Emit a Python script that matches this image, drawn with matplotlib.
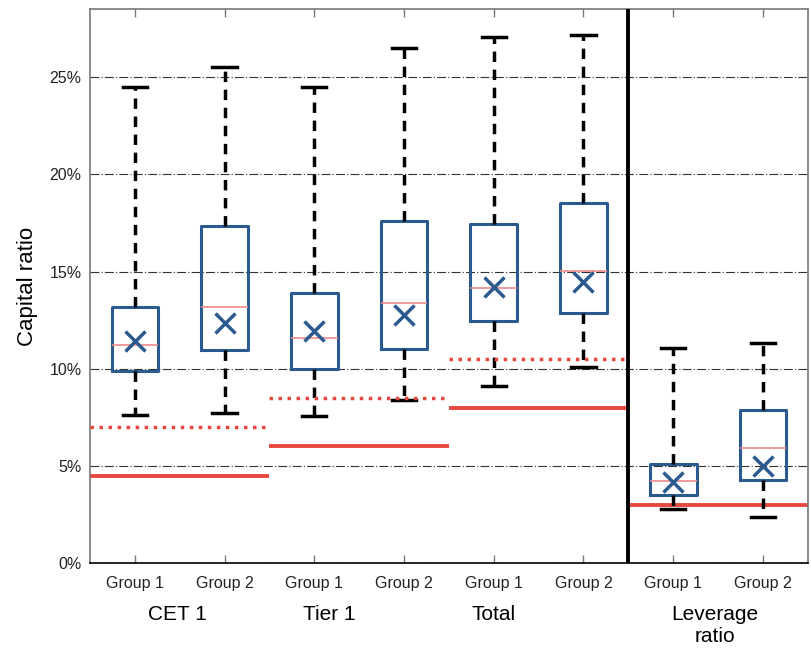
import matplotlib.pyplot as plt
from matplotlib.ticker import FuncFormatter

plt.rcParams['font.family'] = ['Liberation Sans', 'DejaVu Sans']

# box statistics (capital ratio, %)
groups = ['Group 1', 'Group 2'] * 4
whislo = [7.6, 7.7, 7.55, 8.4, 9.1, 10.1, 2.8, 2.35]
q1 = [9.9, 10.95, 10.0, 11.0, 12.45, 12.85, 3.5, 4.3]
med = [11.2, 13.2, 11.6, 13.4, 14.15, 15.05, 4.2, 5.9]
mean = [11.4, 12.35, 11.95, 12.75, 14.2, 14.45, 4.15, 5.0]
q3 = [13.2, 17.35, 13.9, 17.6, 17.45, 18.5, 5.1, 7.9]
whishi = [24.5, 25.5, 24.5, 26.5, 27.05, 27.15, 11.05, 11.3]

# requirements per measure
measures = ['CET 1', 'Tier 1', 'Total', 'Leverage\nratio']
min_req = [4.5, 6.0, 8.0, 3.0]
buffer_req = [7.0, 8.5, 10.5, None]

blue = '#2b5a8e'
red = '#e8473f'

stats = []
for i in range(len(groups)):
    stats.append(dict(whislo=whislo[i], q1=q1[i], med=med[i], q3=q3[i],
                      whishi=whishi[i], mean=mean[i], label=groups[i]))

fig = plt.figure(figsize=(8.11, 6.48), dpi=100)
ax = fig.add_axes([0.111, 0.131, 0.885, 0.855])

pos = list(range(1, 9))
ax.bxp(stats, positions=pos, widths=0.52, showmeans=True, showfliers=False,
       boxprops=dict(color=blue, linewidth=2.2),
       medianprops=dict(color='#f08a8a', linewidth=1.2),
       whiskerprops=dict(color='black', linewidth=2.5, linestyle=(0, (3, 2.2))),
       capprops=dict(color='black', linewidth=2.5),
       capwidths=0.27,
       meanprops=dict(marker='x', markeredgecolor=blue, markersize=14,
                      markeredgewidth=2.5),
       zorder=3)

# requirement lines over each measure's two groups
for k in range(len(measures)):
    x0, x1 = 0.5 + 2 * k, 2.5 + 2 * k
    ax.plot([x0, x1], [min_req[k]] * 2, color=red, lw=2.8, zorder=2,
            solid_capstyle='butt')
    if buffer_req[k] is not None:
        ax.plot([x0, x1], [buffer_req[k]] * 2, color=red, lw=2.5,
                linestyle=(0, (1, 1.6)), zorder=4)

ax.axvline(6.5, color='black', lw=2.8, zorder=5)

ax.set_xlim(0.5, 8.5)
ax.set_ylim(0, 28.5)
ax.set_yticks([0, 5, 10, 15, 20, 25])
ax.yaxis.set_major_formatter(FuncFormatter(lambda v, p: f'{v:.0f}%'))
ax.grid(axis='y', color='#333333', lw=0.8, linestyle=(0, (8, 2, 1, 2)), zorder=1)
ax.set_axisbelow(True)
ax.tick_params(axis='y', length=0, labelsize=11.5, pad=6, colors='#222222')
ax.tick_params(axis='x', direction='in', length=6, width=1, colors='#777777',
               labelcolor='#222222', labelsize=11.5, pad=9, top=True)
ax.set_xticks(pos)
ax.set_xticklabels(groups)
for s in ax.spines.values():
    s.set_color('#777777')
    s.set_linewidth(1.2)
ax.spines['bottom'].set_color('black')

ax.set_ylabel('Capital ratio', fontsize=16, labelpad=8)

label_x = [1.47, 3.17, 5.0, 7.46]
for k, m in enumerate(measures):
    ax.text(label_x[k], -0.075, m, transform=ax.get_xaxis_transform(),
            ha='center', va='top', fontsize=15, linespacing=1.2)

fig.savefig('out.png', dpi=100)
